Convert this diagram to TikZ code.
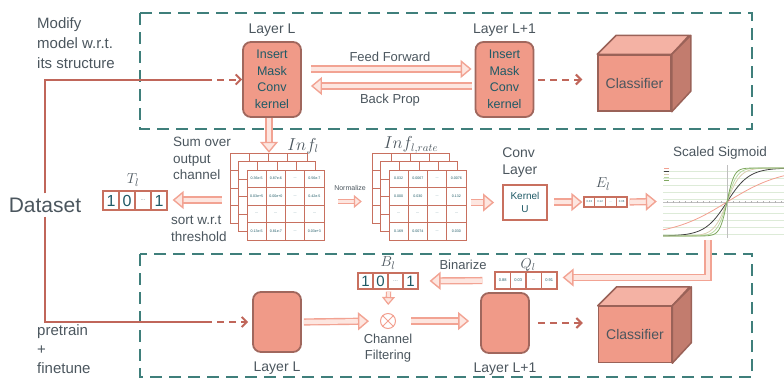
\documentclass[tikz,border=0pt]{standalone}
\usepackage{fontspec}
\setmainfont{Liberation Sans}
\usetikzlibrary{arrows.meta,positioning,calc}

\definecolor{frameteal}{HTML}{3F7F7B}
\definecolor{linered}{HTML}{C0665A}
\definecolor{boxfill}{HTML}{F09A88}
\definecolor{boxline}{HTML}{A0675D}
\definecolor{cubeline}{HTML}{9A6258}
\definecolor{cubetop}{HTML}{F4B2A4}
\definecolor{cubeside}{HTML}{C27C6E}
\definecolor{fatline}{HTML}{F2A393}
\definecolor{fatin}{HTML}{FDE6E0}
\definecolor{cellline}{HTML}{C8705F}
\definecolor{tealtext}{HTML}{1F5A66}
\definecolor{graytext}{HTML}{4B565E}
\definecolor{dotgray}{HTML}{7A9098}
\definecolor{gridgreen}{HTML}{DDEBD8}
\definecolor{sigpink}{HTML}{F2A090}
\definecolor{siggray}{HTML}{404040}
\definecolor{sigtan}{HTML}{D9CDB0}
\definecolor{siglight}{HTML}{B8D8A0}
\definecolor{siggreen}{HTML}{7FA860}

\newcommand{\tinydots}{{\fontsize{6}{6}\selectfont\color{dotgray}...}}
\newcommand{\celldots}{...}
% one sheet of the influence stack: x, y (top left), rows of values
\newcommand{\infsheet}[3]{%
  \foreach \row [count=\r from 0] in {#3} {
    \foreach \v [count=\c from 0] in \row {
      \node[gridcell] at ({#1+\c*19.25+9.625},{#2+\r*17.5+8.75}) {\v};
    }
  }
}
% a sheet lying behind, only its grid shows
\newcommand{\infback}[2]{%
  \foreach \r in {0,...,3} {
    \foreach \c in {0,...,3} {
      \node[gridcell] at ({#1+\c*19.25+9.625},{#2+\r*17.5+8.75}) {};
    }
  }
}

\begin{document}
\begin{tikzpicture}[x=1pt, y=-1pt,
  every node/.style={text=graytext},
  lbl/.style={inner sep=1pt, font=\fontsize{14}{16}\selectfont},
  mathlbl/.style={inner sep=0pt, font=\fontsize{15}{16}\selectfont},
  layerbox/.style={draw=boxline, fill=boxfill, line width=1.8pt, rounded corners=8pt,
    inner sep=0pt, align=center, text=tealtext, font=\fontsize{12.5}{16.5}\selectfont},
  cubefront/.style={draw=cubeline, fill=boxfill, line width=1.5pt, minimum width=73pt,
    minimum height=56pt, inner sep=0pt, font=\fontsize{14}{16}\selectfont},
  convbox/.style={draw=cellline, fill=white, line width=1.8pt, minimum width=44pt,
    minimum height=35pt, inner sep=0pt, align=center, text=tealtext, font=\fontsize{10}{13}\selectfont},
  vcell/.style={draw=cellline, line width=1.2pt, fill=white, inner sep=0pt, text=tealtext},
  gridcell/.style={draw=cellline, line width=1pt, fill=white, minimum width=19.25pt,
    minimum height=17.5pt, inner sep=0pt, text=tealtext, font=\fontsize{3.6}{4}\selectfont},
  fatarrow/.style={draw=fatline, line width=1.4pt, double=fatin, double distance=4.4pt,
    -{Triangle[length=11pt, width=18pt, fill=fatin, line width=1.4pt]}},
  fatsmall/.style={draw=fatline, line width=1.2pt, double=fatin, double distance=3pt,
    -{Triangle[length=8pt, width=13pt, fill=fatin, line width=1.2pt]}},
  dasharrow/.style={draw=linered, line width=2pt, dash pattern=on 7pt off 5pt,
    -{Straight Barb[length=5pt, width=10pt, line width=2pt]}},
  dataline/.style={draw=linered, line width=2pt},
  frame/.style={draw=frameteal, line width=2.4pt, dash pattern=on 12pt off 7pt},
]
\useasboundingbox (0,0) rectangle (784,378);

% dashed frames
\draw[frame] (140,13) rectangle (752,129);
\draw[frame] (140,254) rectangle (752,377);

% left side texts
\node[anchor=north west, align=left, inner sep=0pt, font=\fontsize{15}{20}\selectfont] (modtxt) at (37,17) {Modify\\model w.r.t.\\its structure};
\node[anchor=north west, align=left, inner sep=0pt, font=\fontsize{15}{19}\selectfont] (pretxt) at (37,324) {pretrain\\+\\finetune};
\node[inner sep=4pt, font=\fontsize{21}{22}\selectfont] (dataset) at (45,205) {Dataset};

% top row: masked layers + classifier
\node[layerbox, minimum width=58pt, minimum height=75pt] (layerL) at (272,79.5) {Insert\\Mask\\Conv\\kernel};
\node[layerbox, minimum width=58pt, minimum height=75pt] (layerLp) at (504.5,79.5) {Insert\\Mask\\Conv\\kernel};
\node[lbl, above=3pt of layerL] {Layer L};
\node[lbl, above=3pt of layerLp] {Layer L+1};
\node[cubefront] (cls) at (634.5,83) {Classifier};

% bottom row: pretrained layers + classifier
\node[layerbox, minimum width=48pt, minimum height=60pt] (blayerL) at (277,322) {};
\node[layerbox, minimum width=48pt, minimum height=60pt] (blayerLp) at (505,323) {};
\node[lbl, below=8pt of blayerL] {Layer L};
\node[lbl, below=8pt of blayerLp] {Layer L+1};
\node[cubefront] (bcls) at (635,334.5) {Classifier};

% cube faces
\foreach \n in {cls,bcls} {
  \filldraw[fill=cubetop, draw=cubeline, line width=1.5pt, line join=round]
    (\n.north west) -- ++(19,-19) -- ++(73,0) -- (\n.north east) -- cycle;
  \filldraw[fill=cubeside, draw=cubeline, line width=1.5pt, line join=round]
    (\n.north east) -- ++(19,-19) -- ++(0,56) -- (\n.south east) -- cycle;
}

% dataset feeds both models
\coordinate (dtop) at (45,79.5);
\coordinate (dtopmid) at (205,79.5);
\coordinate (dbot) at (45,322);
\coordinate (dbotmid) at (205,322);
\draw[dataline] (dataset.north) -- (dtop) -- (dtopmid);
\draw[dataline] (dataset.south) -- (dbot) -- (dbotmid);
\draw[dasharrow] (dtopmid) -- (layerL.west);
\draw[dasharrow, shorten >=4pt] (dbotmid) -- (blayerL.west);

% feed forward / back prop
\draw[fatarrow] ([xshift=9pt,yshift=10.5pt]layerL.east) -- ([xshift=-3pt,yshift=10.5pt]layerLp.west);
\draw[fatarrow] ([xshift=-3pt,yshift=-6.5pt]layerLp.west) -- ([xshift=9pt,yshift=-6.5pt]layerL.east);
\node[lbl, font=\fontsize{13}{15}\selectfont] at (390,57) {Feed Forward};
\node[lbl, font=\fontsize{13}{15}\selectfont] at (390,100) {Back Prop};
\draw[dasharrow, shorten <=4pt, shorten >=15pt] (layerLp.east) -- (cls.west |- layerLp.east);

% influence stacks
\infback{230}{153}
\infback{238.5}{161.5}
\infsheet{247}{170}{{0.36e-5,0.87e-6,\celldots,0.56e-7},{0.03e+5,0.00e+0,\celldots,0.42e-5},{\celldots,\celldots,\celldots,\celldots},{0.13e-5,0.81e-7,\celldots,0.03e+3}}
\node[inner sep=0pt, minimum width=94pt, minimum height=87pt] (infl) at (277,196.5) {};
\node[mathlbl, font=\fontsize{16}{17}\selectfont] at (303,146) {$Inf_l$};

\infback{372}{153}
\infback{380.5}{161.5}
\infsheet{389}{170}{{0.032,0.0067,\celldots,0.0076},{0.000,0.030,\celldots,0.132},{\celldots,\celldots,\celldots,\celldots},{0.169,0.0074,\celldots,0.030}}
\node[inner sep=0pt, minimum width=94pt, minimum height=87pt] (infrate) at (419,196.5) {};
\node[mathlbl, font=\fontsize{16}{17}\selectfont] at (411,145) {$Inf_{l,rate}$};

\draw[fatarrow] ([xshift=-3pt]layerL.south) -- ([xshift=-3pt]layerL.south |- infl.north);

% T_l vector
\foreach \v [count=\i] in {1,0,\tinydots,1}
  \node[vcell, minimum width=16pt, minimum height=19pt, font=\fontsize{16}{16}\selectfont] (T\i) at ({103+(\i-0.5)*16},200.5) {\v};
\node[mathlbl] at (133,180) {$T_l$};
\draw[fatarrow, shorten >=13pt] ([xshift=-8pt,yshift=-3.5pt]infl.west) -- ([xshift=-8pt,yshift=-3.5pt]infl.west -| T4.east);
\node[anchor=north west, align=left, inner sep=0pt, font=\fontsize{13.5}{16.5}\selectfont] (sumtxt) at (173,137) {Sum over\\output\\channel};
\node[anchor=north west, align=left, inner sep=0pt, font=\fontsize{13.5}{16.5}\selectfont] (sorttxt) at (171,216) {sort w.r.t\\threshold};

% normalize
\draw[fatsmall, shorten <=14pt, shorten >=10pt] ([yshift=-5pt]infl.east) -- ([yshift=-5pt]infrate.west);
\node[inner sep=0pt, font=\fontsize{7}{8}\selectfont] at (350,188) {Normalize};

% conv layer
\node[convbox] (conv) at (525,202.5) {Kernel\\U};
\node[anchor=south west, align=left, inner sep=0pt, font=\fontsize{14}{17}\selectfont] at ([yshift=6pt]conv.north west) {Conv\\Layer};
\draw[fatarrow, shorten <=5pt, shorten >=8pt] (infrate.east |- conv.west) -- (conv.west);

% E_l vector
\foreach \v [count=\i] in {0.33,0.12,\celldots,0.36}
  \node[vcell, minimum width=10.75pt, minimum height=10pt, font=\fontsize{2.8}{3}\selectfont] (E\i) at ({584+(\i-0.5)*10.75},202) {\v};
\node[mathlbl] at (603,184) {$E_l$};
\draw[fatarrow, shorten <=6pt, shorten >=1pt] (conv.east |- E1.west) -- (E1.west);

% scaled sigmoid plot
\node[inner sep=0pt, minimum width=127pt, minimum height=73pt] (sig) at (720.5,201.5) {};
\node[font=\fontsize{13.5}{15}\selectfont, inner sep=0pt] at (720,153) {Scaled Sigmoid};
\foreach \gy in {171,178,...,234}
  \draw[gridgreen, line width=0.5pt] (663,\gy) -- (784,\gy);
\draw[gray!50, line width=0.4pt] (727,165) -- (727,238);
\draw[gray!50, line width=0.4pt] (663,202) -- (784,202);
\foreach \tx in {667,673,...,781}
  \draw[gray!60, line width=0.4pt] (\tx,201) -- (\tx,203);
\foreach \k/\col in {0.018/sigpink, 0.045/siggray, 0.075/sigtan, 0.1/siglight, 0.14/siggreen}
  \draw[\col, line width=0.8pt] plot[domain=663:784, samples=90]
    (\x, {202-34*(2/(1+exp(-max(-9,min(9,2*\k*(\x-727)))))-1)});
\foreach \col [count=\i] in {sigpink,siggray,sigtan,siglight,siggreen}
  \draw[\col, line width=0.6pt] (664,{165+\i*3}) -- (669,{165+\i*3});
\draw[fatarrow, shorten <=2pt] (E4.east) -- (sig.west);

% Q_l vector
\foreach \v [count=\i] in {0.88,0.03,\celldots,0.91}
  \node[vcell, minimum width=15.5pt, minimum height=17pt, font=\fontsize{4}{4}\selectfont] (Q\i) at ({495+(\i-0.5)*15.5},280.5) {\v};
\node[mathlbl, font=\fontsize{14}{15}\selectfont] at (528,265) {$Q_l$};
\draw[fatarrow, shorten <=2pt, shorten >=5pt] ([xshift=-12.5pt]sig.south) |- ([yshift=3pt]Q4.east);

% B_l vector
\foreach \v [count=\i] in {1,0,\tinydots,1}
  \node[vcell, minimum width=15pt, minimum height=16pt, font=\fontsize{15}{15}\selectfont] (B\i) at ({358+(\i-0.5)*15},281) {\v};
\node[mathlbl] at (388,263) {$B_l$};
\draw[fatarrow, shorten <=12pt, shorten >=11pt] (Q1.west) -- (B4.east);
\node[lbl, font=\fontsize{13}{15}\selectfont] at (463,265) {Binarize};

% channel filtering
\node[circle, draw=sigpink, line width=1pt, minimum size=15pt, inner sep=0pt] (otimes) at (388,321) {};
\draw[sigpink, line width=1pt] (otimes.north west) -- (otimes.south east)
  (otimes.north east) -- (otimes.south west);
\node[lbl, align=center, below=4pt of otimes, font=\fontsize{13}{16}\selectfont] {Channel\\Filtering};
\draw[fatsmall, shorten <=2pt, shorten >=8pt] (B2.south east) -- (otimes.north);
\draw[fatarrow, shorten <=2pt, shorten >=11pt] (blayerL.east) -- (otimes.west);
\draw[fatarrow, shorten <=15pt, shorten >=11pt] (otimes.east) -- (otimes.east -| blayerLp.west);
\draw[dasharrow, shorten <=8pt, shorten >=15pt] (blayerLp.east) -- (bcls.west |- blayerLp.east);
\end{tikzpicture}
\end{document}
